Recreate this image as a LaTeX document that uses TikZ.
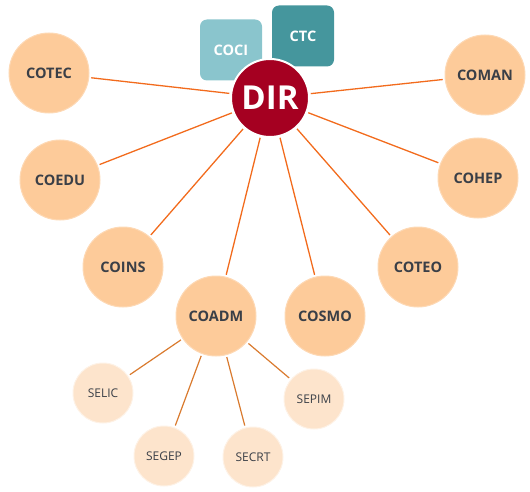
\documentclass[tikz,border=0pt]{standalone}
\usepackage{fontspec}
\setmainfont{Open Sans}
\definecolor{dirred}{HTML}{A50021}
\definecolor{peach}{HTML}{FDCB9A}
\definecolor{peachline}{HTML}{FDD9B5}
\definecolor{lightpeach}{HTML}{FDE4CC}
\definecolor{teallight}{HTML}{8AC5CD}
\definecolor{tealdark}{HTML}{45969D}
\definecolor{orangeline}{HTML}{F26B1D}
\definecolor{brownline}{HTML}{D97A2E}
\definecolor{txt}{HTML}{3A3F47}
\begin{document}
\begin{tikzpicture}[x=1pt,y=-1pt,
  main/.style={circle,fill=peach,draw=peachline,line width=1pt,minimum size=80pt,inner sep=0pt,text=txt,font=\fontsize{14.5}{14.5}\selectfont\bfseries},
  sec/.style={circle,fill=lightpeach,draw=white!50!lightpeach,line width=1pt,minimum size=60pt,inner sep=0pt,text=txt,font=\fontsize{12}{12}\selectfont},
  box/.style={rounded corners=7pt,minimum width=62pt,minimum height=61pt,inner sep=0pt,text=white,font=\fontsize{14.5}{14.5}\selectfont\bfseries},
  link/.style={orangeline,line width=1.3pt},
  sublink/.style={brownline,line width=1.2pt}]
\useasboundingbox (0,0) rectangle (530,492);
\node[box,fill=teallight] (coci) at (231,50) {COCI};
\node[box,fill=tealdark] (ctc) at (303,36) {CTC};
\node[main] (cotec) at (49,73) {COTEC};
\node[main] (coman) at (485,75) {COMAN};
\node[main] (coedu) at (60,180) {COEDU};
\node[main] (cohep) at (478,178) {COHEP};
\node[main] (coins) at (123,267) {COINS};
\node[main] (coteo) at (418,267) {COTEO};
\node[main] (coadm) at (216,316) {COADM};
\node[main] (cosmo) at (325,316) {COSMO};
\node[sec] (selic) at (103,393) {SELIC};
\node[sec] (segep) at (164,456) {SEGEP};
\node[sec] (secrt) at (253,457) {SECRT};
\node[sec] (sepim) at (314,399) {SEPIM};
\node[circle,fill=dirred,draw=white,line width=2pt,minimum size=78pt,inner sep=0pt,text=white,font=\fontsize{33}{33}\selectfont\bfseries] (dir) at (270,98) {DIR};
\foreach \n in {cotec,coman,coedu,cohep,coins,coteo,coadm,cosmo}
  \draw[link,shorten <=1pt,shorten >=2pt] (dir) -- (\n);
\foreach \n in {selic,segep,secrt,sepim}
  \draw[sublink,shorten <=2pt,shorten >=2pt] (coadm) -- (\n);
\end{tikzpicture}
\end{document}
